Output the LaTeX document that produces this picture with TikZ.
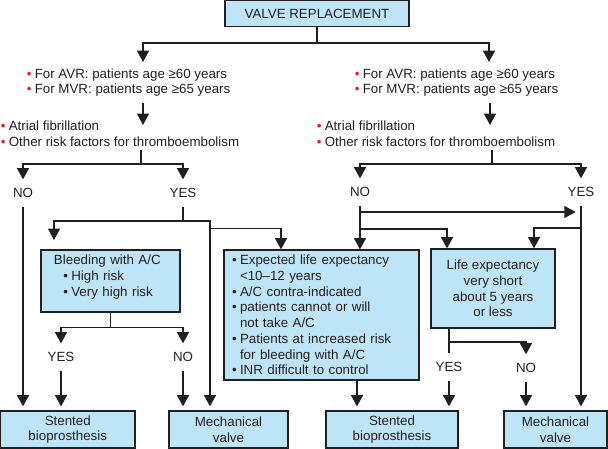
\documentclass[tikz,border=0pt]{standalone}
\usepackage{fontspec}
\setmainfont{Liberation Sans}
\usetikzlibrary{arrows.meta}
\definecolor{boxblue}{HTML}{BEE5F7}
\definecolor{bred}{HTML}{E2231A}
\definecolor{lnc}{HTML}{231F20}
\newcommand{\rb}{{\color{bred}•}\hspace{2.5pt}}
\newcommand{\kb}{•\hspace{2.5pt}}
\newcommand{\ki}{\phantom{•}\hspace{2.5pt}}
\begin{document}
\begin{tikzpicture}[x=0.75pt,y=-0.75pt,
  every node/.style={font=\fontsize{10}{11.8}\selectfont, text=lnc},
  box/.style={draw=lnc, fill=boxblue, line width=0.9pt, inner sep=0pt, align=center},
  ln/.style={draw=lnc, line width=1pt},
  arr/.style={ln, -{Triangle[length=8.5pt,width=9pt]}},
  arrs/.style={arr, shorten >=3pt},
  lbl/.style={inner sep=0pt, minimum height=20pt},
  txt/.style={inner sep=0pt, align=left, anchor=west}]
\useasboundingbox (0,0) rectangle (608,449);

% boxes
\node[box, minimum width=138pt, minimum height=19.5pt] (top) at (317,13.5) {VALVE REPLACEMENT};
\node[box, minimum width=104.25pt, minimum height=46.5pt, text width=84.75pt, align=left] (bleed) at (110.5,281)
  {Bleeding with A/C\\\hspace*{7pt}\kb High risk\\\hspace*{7pt}\kb Very high risk\rule[-8pt]{0pt}{8pt}};
\node[box, minimum width=146.25pt, minimum height=97.5pt, text width=134.25pt, align=left] (expct) at (321.5,315)
  {\kb Expected life expectancy\\\ki <10–12 years\\\kb A/C contra-indicated\\\kb patients cannot or will\\\ki not take A/C\\\kb Patients at increased risk\\\ki for bleeding with A/C\\\kb INR difficult to control};
\node[box, minimum width=93pt, minimum height=59.25pt] (life) at (493,288.5)
  {Life expectancy\\very short\\about 5 years\\or less};
\node[box, minimum width=100.9pt, minimum height=27.75pt] (stL) at (67.75,429.5) {Stented\\bioprosthesis};
\node[box, minimum width=89.25pt, minimum height=27.75pt] (mechL) at (228.5,429.5) {Mechanical\\valve};
\node[box, minimum width=99pt, minimum height=27.75pt] (stM) at (392,429.5) {Stented\\bioprosthesis};
\node[box, minimum width=77.25pt, minimum height=27.75pt] (mechR) at (555.5,429.5) {Mechanical\\valve};

% bulleted texts
\node[txt] (ageL) at (26.5,82.5) {\rb For AVR: patients age ≥60 years\\\rb For MVR: patients age ≥65 years};
\node[txt] (ageR) at (354.5,82.5) {\rb For AVR: patients age ≥60 years\\\rb For MVR: patients age ≥65 years};
\node[txt] (riskL) at (0.5,133.5) {\rb Atrial fibrillation\\\rb Other risk factors for thromboembolism};
\node[txt] (riskR) at (316.5,133.5) {\rb Atrial fibrillation\\\rb Other risk factors for thromboembolism};

% labels
\node[lbl] (noL) at (23,193) {NO};
\node[lbl] (yesL) at (183,193) {YES};
\node[lbl] (noR) at (360,192) {NO};
\node[lbl] (yesR) at (581,192) {YES};
\node[lbl] (yesB) at (61,357) {YES};
\node[lbl] (noB) at (183,357) {NO};
\node[lbl] (yesC) at (449,367) {YES};
\node[lbl] (noC) at (526,368) {NO};

% coordinates
\coordinate (j1) at (317,43);
\coordinate (aL) at (143,62);
\coordinate (aR) at (489,62);
\coordinate (bL1) at (143,103);
\coordinate (bL2) at (143,125);
\coordinate (bR1) at (490,103);
\coordinate (bR2) at (490,125);
\coordinate (cL) at (141,150);
\coordinate (cL2) at (141,164);
\coordinate (cR) at (492,150);
\coordinate (cR2) at (492,164);
\coordinate (dL) at (183,221);
\coordinate (eL) at (210,221);
\coordinate (fL) at (210,228.5);
\coordinate (gL) at (281,0);
\coordinate (bleedA) at (54,240);
\coordinate (kR) at (360,212);
\coordinate (mR) at (360,229);
\coordinate (lifeA) at (447,0);
\coordinate (nR) at (581,228);
\coordinate (lifeB) at (534,0);
\coordinate (lA) at (449,0);
\coordinate (pR) at (449,342);
\coordinate (eA) at (357,0);

% connectors
\draw[ln] (top.south) -- (j1);
\draw[arr] (j1) -| (aL);
\draw[arr] (j1) -| (aR);
\draw[arr] (bL1) -- (bL2);
\draw[arr] (bR1) -- (bR2);
\draw[ln] (cL) -- (cL2);
\draw[arr] (cL2) -| (noL.north);
\draw[arr] (cL2) -| (yesL.north);
\draw[ln] (cR) -- (cR2);
\draw[arr] (cR2) -| (noR.north);
\draw[arr] (cR2) -| (yesR.north);

\draw[arrs] (noL.south) -- (noL.south |- stL.north);
\draw[ln] (yesL.south) -- (dL);
\draw[arr] (dL) -| (bleedA);
\draw[arrs] (dL) -- (eL) -- (eL |- mechL.north);
\draw[arr] (fL) -| (gL |- expct.north);

\draw[ln] (bleed.south) -- ++(0,15) coordinate (hB);
\draw[arr] (hB) -| (yesB.north);
\draw[arr] (hB) -| (noB.north);
\draw[arrs] (yesB.south) -- (yesB.south |- stL.north);
\draw[arrs] (noB.south) -- (noB.south |- mechL.north);

\draw[arr] (noR.south) -- (noR.south |- expct.north);
\draw[arr, shorten >=4pt] (kR) -- (kR -| yesR.south);
\draw[arr] (mR) -| (lifeA |- life.north);
\draw[arrs] (yesR.south) -- (yesR.south |- mechR.north);
\draw[arr] (nR) -| (lifeB |- life.north);

\draw[ln] (lA |- life.south) -- (yesC.north);
\draw[arr] (pR) -| (noC.north);
\draw[arrs] (yesC.south) -- (yesC.south |- stM.north);
\draw[arrs] (noC.south) -- (noC.south |- mechR.north);
\draw[arrs] (eA |- expct.south) -- (eA |- stM.north);
\end{tikzpicture}
\end{document}
